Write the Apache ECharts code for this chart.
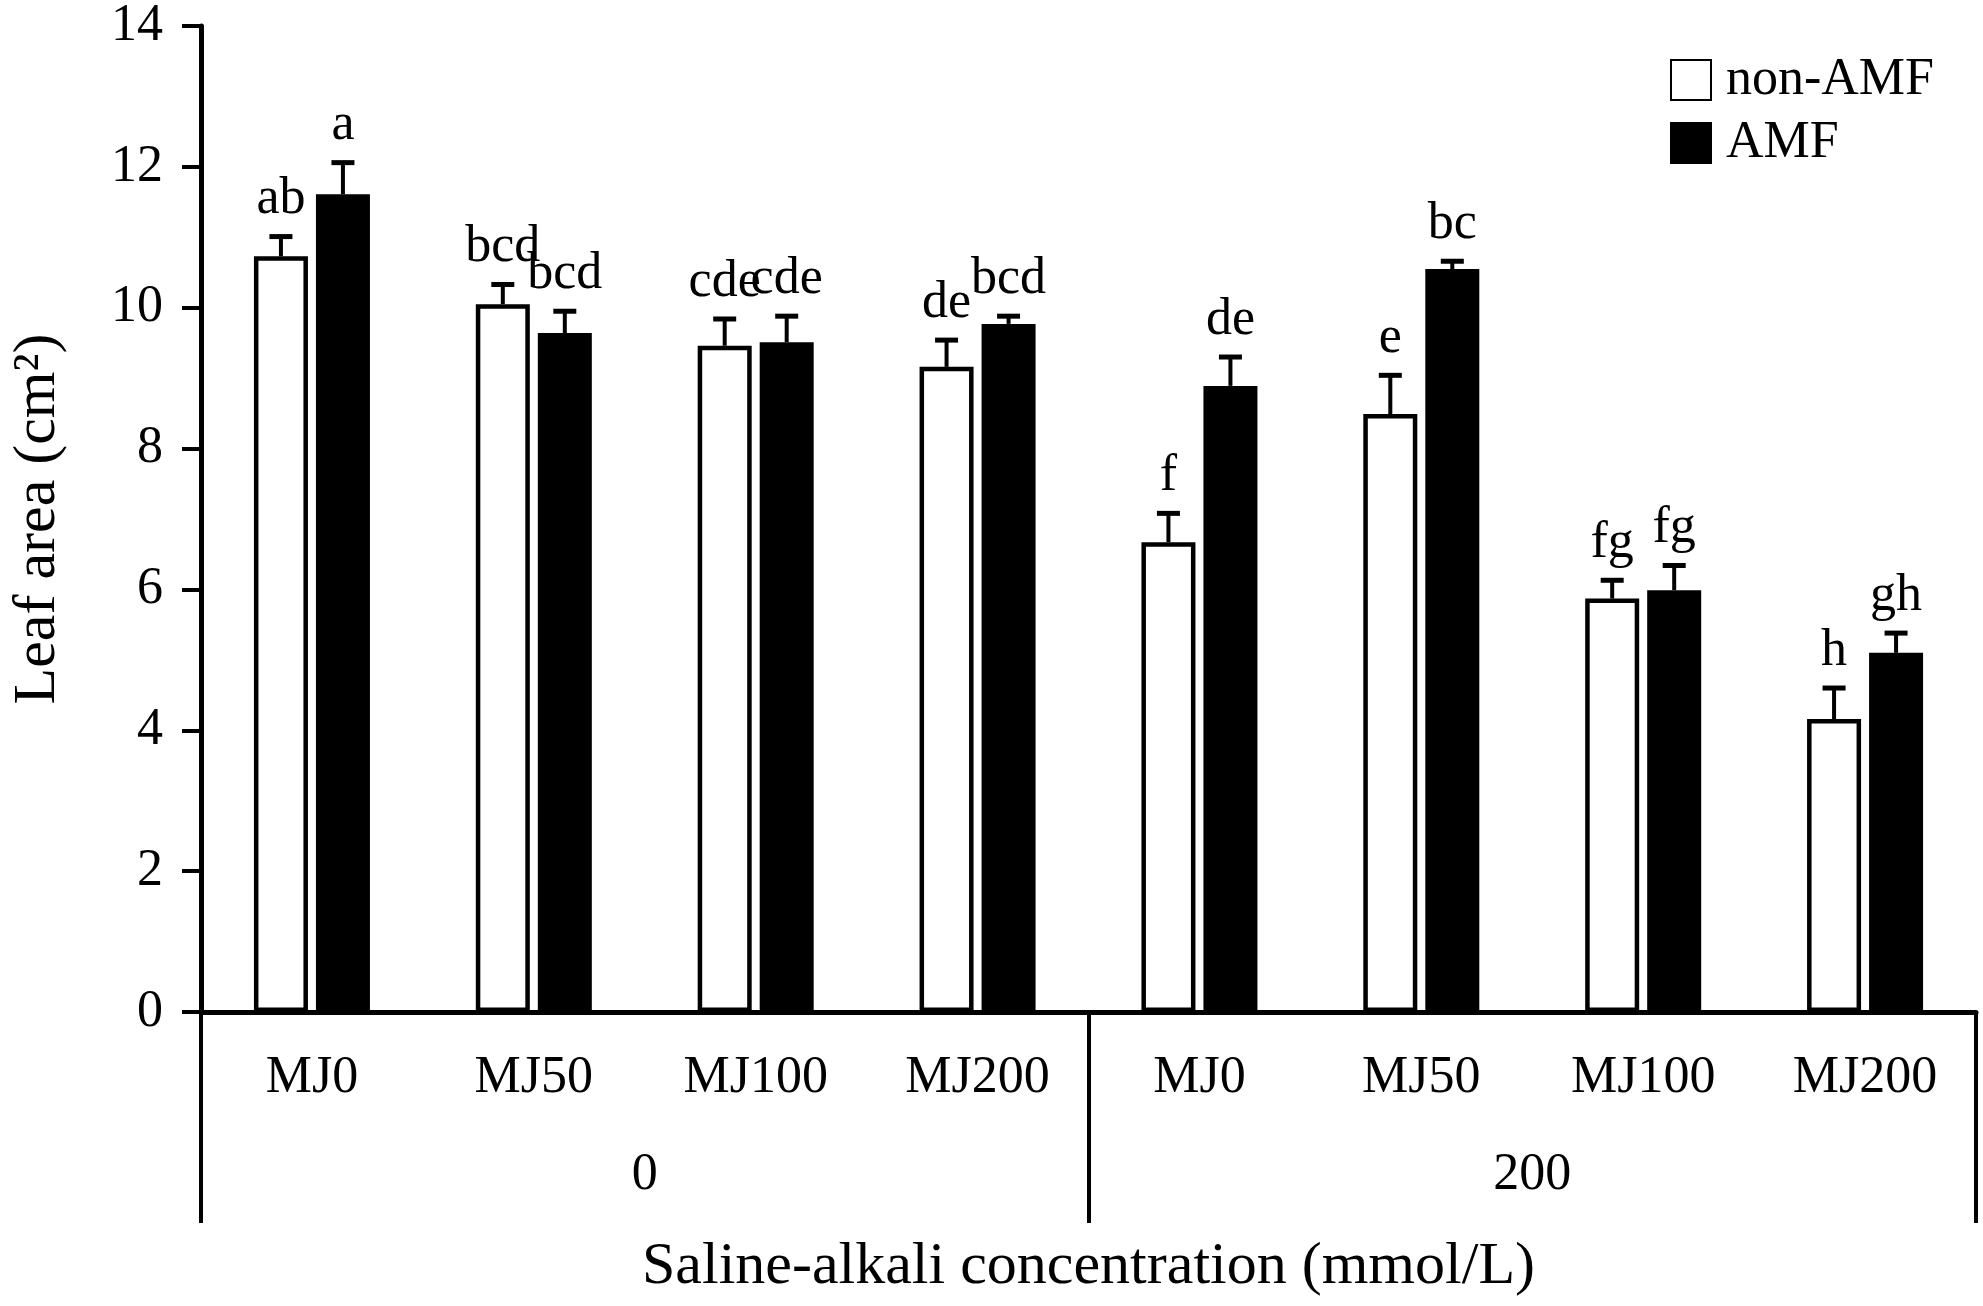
<!DOCTYPE html>
<html>
<head>
<meta charset="utf-8">
<script src="https://cdn.jsdelivr.net/npm/echarts@6/dist/echarts.min.js"></script>
<style>
html,body{margin:0;padding:0;background:#fff;}
#chart{width:1983px;height:1306px;}
</style>
</head>
<body>
<div id="chart"></div>
<script>
// ---- data ----
const categories = ['MJ0','MJ50','MJ100','MJ200','MJ0','MJ50','MJ100','MJ200'];
const groups = ['0','200'];
const yTicks = [0, 2, 4, 6, 8, 10, 12, 14];
const nonAMF = [10.73, 10.05, 9.46, 9.16, 6.67, 8.49, 5.87, 4.16];
const nonAMFErr = [0.28, 0.28, 0.38, 0.38, 0.41, 0.55, 0.26, 0.44];
const nonAMFLetters = ['ab','bcd','cde','de','f','e','fg','h'];
const AMF = [11.61, 9.64, 9.51, 9.77, 8.89, 10.55, 5.99, 5.10];
const AMFErr = [0.45, 0.31, 0.37, 0.11, 0.41, 0.11, 0.35, 0.28];
const AMFLetters = ['a','bcd','cde','bcd','de','bc','fg','gh'];

// ---- style ----
const FONT = '"Liberation Serif", "Times New Roman", serif';
const BAR_W = 54;
const GAP_PX = 8;
const OFFSET = (BAR_W + GAP_PX) / 2;
const CAP = 23;
const LABEL_GAP = 11;

function errSeries(values, errs, letters, sign) {
  return {
    type: 'custom',
    z: 5,
    silent: true,
    data: values.map((v, i) => [i, v, errs[i]]),
    renderItem: function (params, api) {
      const x = api.value(0), v = api.value(1), e = api.value(2);
      const base = api.coord([x, v]);
      const top = api.coord([x, v + e]);
      const cx = base[0] + sign * OFFSET;
      return {
        type: 'group',
        children: [
          {type: 'line', shape: {x1: cx, y1: base[1], x2: cx, y2: top[1]}, style: {stroke: '#000', lineWidth: 4}},
          {type: 'line', shape: {x1: cx - CAP / 2, y1: top[1], x2: cx + CAP / 2, y2: top[1]}, style: {stroke: '#000', lineWidth: 5}},
          {type: 'text', x: cx, y: top[1] - LABEL_GAP,
           style: {text: letters[params.dataIndex], fontFamily: FONT, fontSize: 52, fill: '#000',
                   align: 'center', verticalAlign: 'bottom', lineHeight: 52}}
        ]
      };
    }
  };
}

const chart = echarts.init(document.getElementById('chart'), null, {renderer: 'canvas'});
chart.setOption({
  backgroundColor: '#fff',
  animation: false,
  grid: {left: 198, right: 7, top: 23, bottom: 294, containLabel: false},
  legend: {
    data: ['non-AMF', 'AMF'],
    orient: 'vertical',
    left: 1665,
    top: 49,
    itemWidth: 40,
    itemHeight: 40,
    itemGap: 11,
    icon: 'rect',
    textStyle: {fontFamily: FONT, fontSize: 52, color: '#000', lineHeight: 52, padding: [0, 0, 0, 10]}
  },
  xAxis: [
    {
      type: 'category',
      data: categories,
      position: 'bottom',
      axisLine: {show: true, lineStyle: {color: '#000', width: 5}},
      axisTick: {show: false},
      axisLabel: {fontFamily: FONT, fontSize: 52, color: '#000', margin: 40, lineHeight: 52, interval: 0},
      splitLine: {show: false}
    },
    {
      type: 'category',
      data: groups,
      position: 'bottom',
      offset: 0,
      axisLine: {show: false},
      axisTick: {show: true, length: 211, lineStyle: {color: '#000', width: 4}},
      axisLabel: {fontFamily: FONT, fontSize: 52, color: '#000', margin: 137, lineHeight: 52},
      splitLine: {show: false},
      name: 'Saline-alkali concentration (mmol/L)',
      nameLocation: 'middle',
      nameGap: 225,
      nameTextStyle: {fontFamily: FONT, fontSize: 60, color: '#000', lineHeight: 60}
    }
  ],
  yAxis: {
    type: 'value',
    min: yTicks[0],
    max: yTicks[yTicks.length - 1],
    interval: yTicks[1] - yTicks[0],
    axisLine: {show: true, lineStyle: {color: '#000', width: 5}},
    axisTick: {show: true, length: 19, lineStyle: {color: '#000', width: 4}},
    axisLabel: {fontFamily: FONT, fontSize: 52, color: '#000', margin: 38},
    splitLine: {show: false},
    name: 'Leaf area (cm²)',
    nameLocation: 'middle',
    nameGap: 133,
    nameTextStyle: {fontFamily: FONT, fontSize: 60, color: '#000', lineHeight: 60}
  },
  series: [
    {
      name: 'non-AMF',
      type: 'bar',
      data: nonAMF,
      barWidth: BAR_W,
      barGap: (GAP_PX / BAR_W * 100) + '%',
      itemStyle: {color: '#fff', borderColor: '#000', borderWidth: 4.5}
    },
    {
      name: 'AMF',
      type: 'bar',
      data: AMF,
      barWidth: BAR_W,
      barGap: (GAP_PX / BAR_W * 100) + '%',
      itemStyle: {color: '#000', borderColor: '#000', borderWidth: 4.5}
    },
    errSeries(nonAMF, nonAMFErr, nonAMFLetters, -1),
    errSeries(AMF, AMFErr, AMFLetters, 1)
  ]
});
</script>
</body>
</html>
